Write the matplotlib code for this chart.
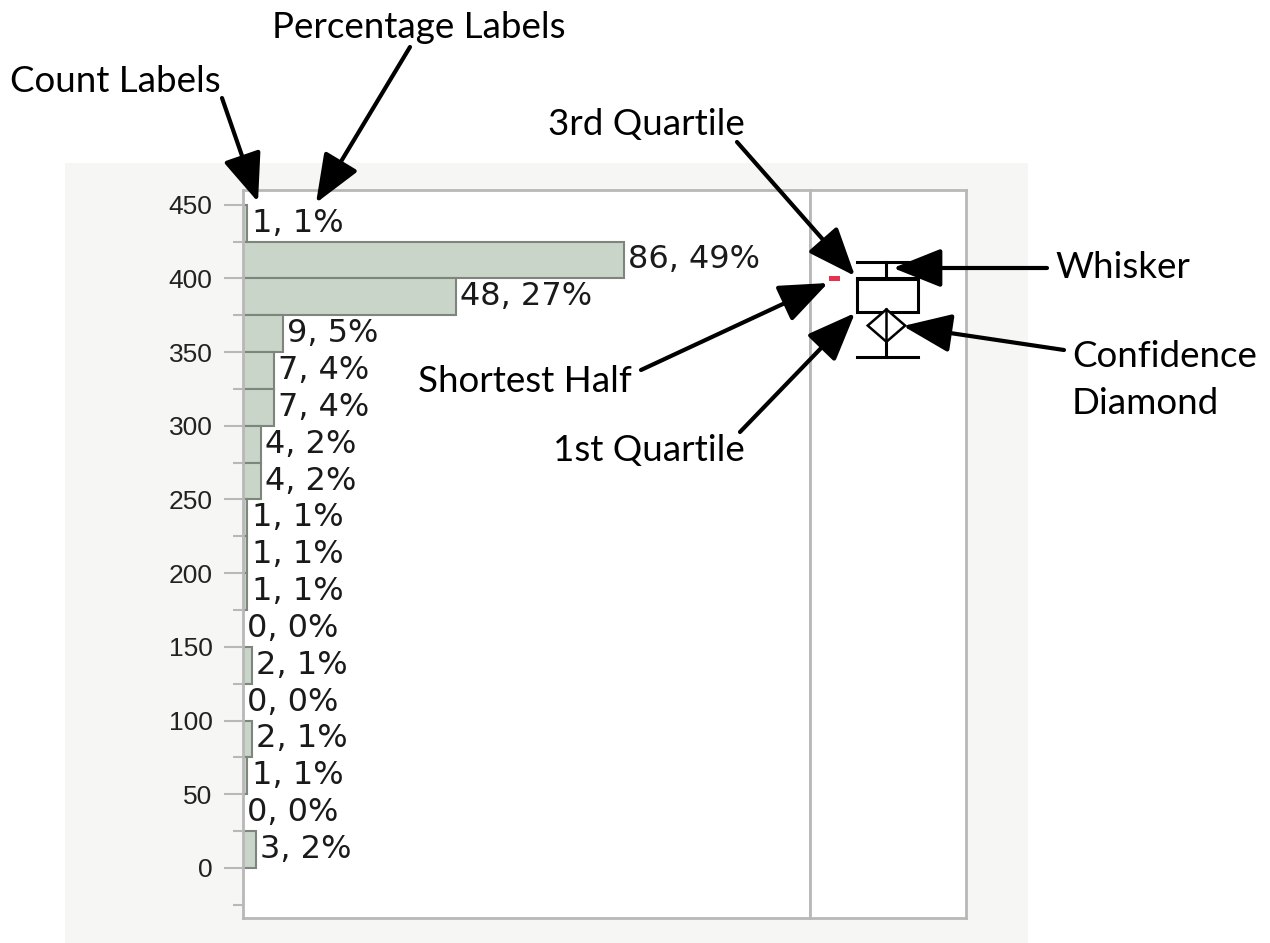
import matplotlib.pyplot as plt
from matplotlib.patches import Rectangle, Polygon, FancyArrowPatch

# histogram bins (lower edges, width 25) and counts, top bin first
bin_lo = [425, 400, 375, 350, 325, 300, 275, 250, 225, 200, 175, 150, 125, 100, 75, 50, 25, 0]
counts = [1, 86, 48, 9, 7, 7, 4, 4, 1, 1, 1, 0, 2, 0, 2, 1, 0, 3]
bin_w = 25
y_ticks = [0, 50, 100, 150, 200, 250, 300, 350, 400, 450]

# outlier box plot summary
whisker_hi = 411
q3 = 400.5
median = 399.5
q1 = 377.5
whisker_lo = 347
mean = 368
ci_lo, ci_hi = 357, 379
short_half = (398.5, 401.5)

W, H = 1270, 943
fig = plt.figure(figsize=(W / 100, H / 100), dpi=100)
fig.patch.set_facecolor('white')

def fx(x):
    return x / W

def fy(y):
    return 1 - y / H

# light gray report panel behind the plots
fig.patches.append(Rectangle((fx(65), 0), fx(1028) - fx(65), fy(163), transform=fig.transFigure,
                             facecolor='#f6f6f4', edgecolor='none', zorder=-5))

frame = '#b8b8b8'
ax = fig.add_axes([fx(243), fy(918), fx(810) - fx(243), fy(190) - fy(918)])
axb = fig.add_axes([fx(810), fy(918), fx(966) - fx(810), fy(190) - fy(918)])
for a in (ax, axb):
    a.set_facecolor('white')
    a.set_ylim(-34, 460)
    for s in a.spines.values():
        s.set_color(frame)
        s.set_linewidth(2)

ax.set_xlim(0, 128)
ax.set_xticks([])
ax.set_yticks(y_ticks, [str(v) for v in y_ticks], fontsize=19, fontfamily='Liberation Sans', color='#222222')
ax.set_yticks([v - 25 for v in y_ticks], minor=True)
ax.tick_params(axis='y', which='major', length=14, width=1.5, color=frame, pad=8)
ax.tick_params(axis='y', which='minor', length=7, width=1.5, color=frame)

total = sum(counts)
mids = [lo + bin_w / 2 for lo in bin_lo]
ax.barh(mids, counts, height=bin_w, left=0, color='#c9d5c9', edgecolor='#7d857d', linewidth=1.5, zorder=2)
for c, m in zip(counts, mids):
    ax.annotate(f'{c}, {round(100 * c / total)}%', (c, m), xytext=(3, 0), textcoords='offset points',
                va='center', ha='left', fontsize=23, family='DejaVu Sans', color='#1a1a1a')

# box plot panel
axb.set_xlim(0, 1)
axb.set_xticks([])
axb.set_yticks([])
bx0, bx1, bxc = 0.30, 0.69, 0.49
axb.add_patch(Rectangle((bx0, q1), bx1 - bx0, q3 - q1, facecolor='white', edgecolor='black', lw=2.2, zorder=3))
axb.plot([bx0, bx1], [median, median], color='black', lw=2.2, zorder=4)
axb.plot([bxc, bxc], [q3, whisker_hi], color='black', lw=2.2)
axb.plot([bx0, bx1], [whisker_hi, whisker_hi], color='black', lw=2.2)
axb.plot([bxc, bxc], [q1, whisker_lo], color='black', lw=2.2)
axb.plot([bx0, bx1], [whisker_lo, whisker_lo], color='black', lw=2.2)
dw = 0.12
axb.add_patch(Polygon([(bxc, ci_hi), (bxc + dw, mean), (bxc, ci_lo), (bxc - dw, mean)], closed=True,
                      facecolor='white', edgecolor='black', lw=1.8, zorder=4))
axb.plot([bxc, bxc], [ci_lo, ci_hi], color='black', lw=1.8, zorder=5)
axb.add_patch(Rectangle((0.12, short_half[0]), 0.07, short_half[1] - short_half[0],
                        facecolor='#e8304f', edgecolor='none', zorder=4))

# callouts
afont = dict(family='Lato', fontsize=26.5, color='black', va='center', ha='left')
labels = [
    ('Percentage Labels', 272, 28),
    ('Count Labels', 10, 82),
    ('3rd Quartile', 548, 125),
    ('Whisker', 1055, 268),
    ('Confidence', 1072, 357),
    ('Diamond', 1072, 404),
    ('Shortest Half', 418, 381),
    ('1st Quartile', 553, 451),
]
for txt, x, y in labels:
    fig.text(fx(x), fy(y), txt, **afont)

arrows = [
    ((222, 98), (258, 202)),
    ((410, 47), (316, 203)),
    ((737, 142), (855, 276)),
    ((1047, 268), (893, 268)),
    ((1064, 350), (903, 326)),
    ((641, 370), (828, 283)),
    ((740, 432), (855, 313)),
]
for (x0, y0), (x1, y1) in arrows:
    fig.add_artist(FancyArrowPatch((fx(x0), fy(y0)), (fx(x1), fy(y1)), transform=fig.transFigure,
                                   arrowstyle='-|>,head_length=1.5,head_width=0.6', mutation_scale=20,
                                   lw=3, color='black', shrinkA=0, shrinkB=0, zorder=10))

fig.savefig('out.png', dpi=100)
